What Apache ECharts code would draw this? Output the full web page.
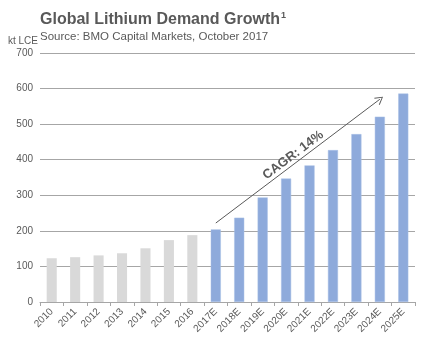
<!DOCTYPE html>
<html><head><meta charset="utf-8">
<script src="https://cdn.jsdelivr.net/npm/echarts@6/dist/echarts.min.js"></script>
<style>html,body{margin:0;padding:0;background:#fff}#c{width:434px;height:347px}</style>
</head><body><div id="c"></div>
<script>
var categories = ['2010','2011','2012','2013','2014','2015','2016','2017E','2018E','2019E','2020E','2021E','2022E','2023E','2024E','2025E'];
var historical = [123, 126, 131, 137, 151, 174, 188, null, null, null, null, null, null, null, null, null];
var forecast = [null, null, null, null, null, null, null, 204, 237, 294, 347, 384, 427, 472, 521, 586];
var yTicks = [0, 100, 200, 300, 400, 500, 600, 700];
var arrowStart = [7, 222];
var arrowEnd = [14.45, 570];

var chart = echarts.init(document.getElementById('c'));
chart.setOption({
  animation: false,
  title: [{
    text: '{t|Global Lithium Demand Growth}{s|1}',
    left: 35, top: 6,
    textStyle: { rich: {
      t: { fontFamily: 'Liberation Sans', fontSize: 16, fontWeight: 'bold', color: '#595959' },
      s: { fontFamily: 'Liberation Sans', fontSize: 9, fontWeight: 'bold', color: '#595959', verticalAlign: 'top', padding: [0,0,8,1] }
    } }
  }, {
    text: 'Source: BMO Capital Markets, October 2017',
    left: 35, top: 26,
    textStyle: { fontFamily: 'Liberation Sans', fontSize: 11.5, fontWeight: 'normal', color: '#595959' }
  }, {
    text: 'kt LCE', left: 3, top: 31,
    textStyle: { fontFamily: 'Liberation Sans', fontSize: 10, fontWeight: 'normal', color: '#595959' }
  }],
  grid: { left: 40, right: 19, top: 53, bottom: 45 },
  xAxis: {
    type: 'category', data: categories,
    axisLine: { lineStyle: { color: '#a6a6a6', width: 1 } },
    axisTick: { show: true, length: 4, lineStyle: { color: '#a6a6a6' } },
    axisLabel: { rotate: 45, color: '#595959', fontFamily: 'Liberation Sans', fontSize: 10, margin: 8, interval: 0 }
  },
  yAxis: {
    type: 'value', min: yTicks[0], max: yTicks[yTicks.length-1], interval: 100,
    axisLine: { show: false }, axisTick: { show: false },
    axisLabel: { color: '#595959', fontFamily: 'Liberation Sans', fontSize: 10, margin: 7 },
    splitLine: { lineStyle: { color: '#a6a6a6', width: 1 } }
  },
  series: [{
    type: 'bar', data: historical, barWidth: '43%', barGap: '-100%',
    itemStyle: { color: '#d9d9d9' }
  }, {
    type: 'bar', data: forecast, barWidth: '43%',
    itemStyle: { color: '#8eaadb', borderColor: '#a9c0e6', borderWidth: 0.5 },
    markLine: {
      silent: true,
      symbol: ['none', 'path://M0,10 L5,0 L10,10 L9,10.6 L5,2.2 L1,10.6 Z'],
      symbolSize: [9, 8],
      itemStyle: { color: '#595959' },
      lineStyle: { color: '#595959', width: 1, type: 'solid' },
      label: { show: true, position: 'middle', formatter: 'CAGR: 14%', color: '#595959',
        fontFamily: 'Liberation Sans', fontSize: 13, fontWeight: 'bold', distance: 1 },
      data: [[{ coord: arrowStart }, { coord: arrowEnd }]]
    }
  }]
});
</script></body></html>
